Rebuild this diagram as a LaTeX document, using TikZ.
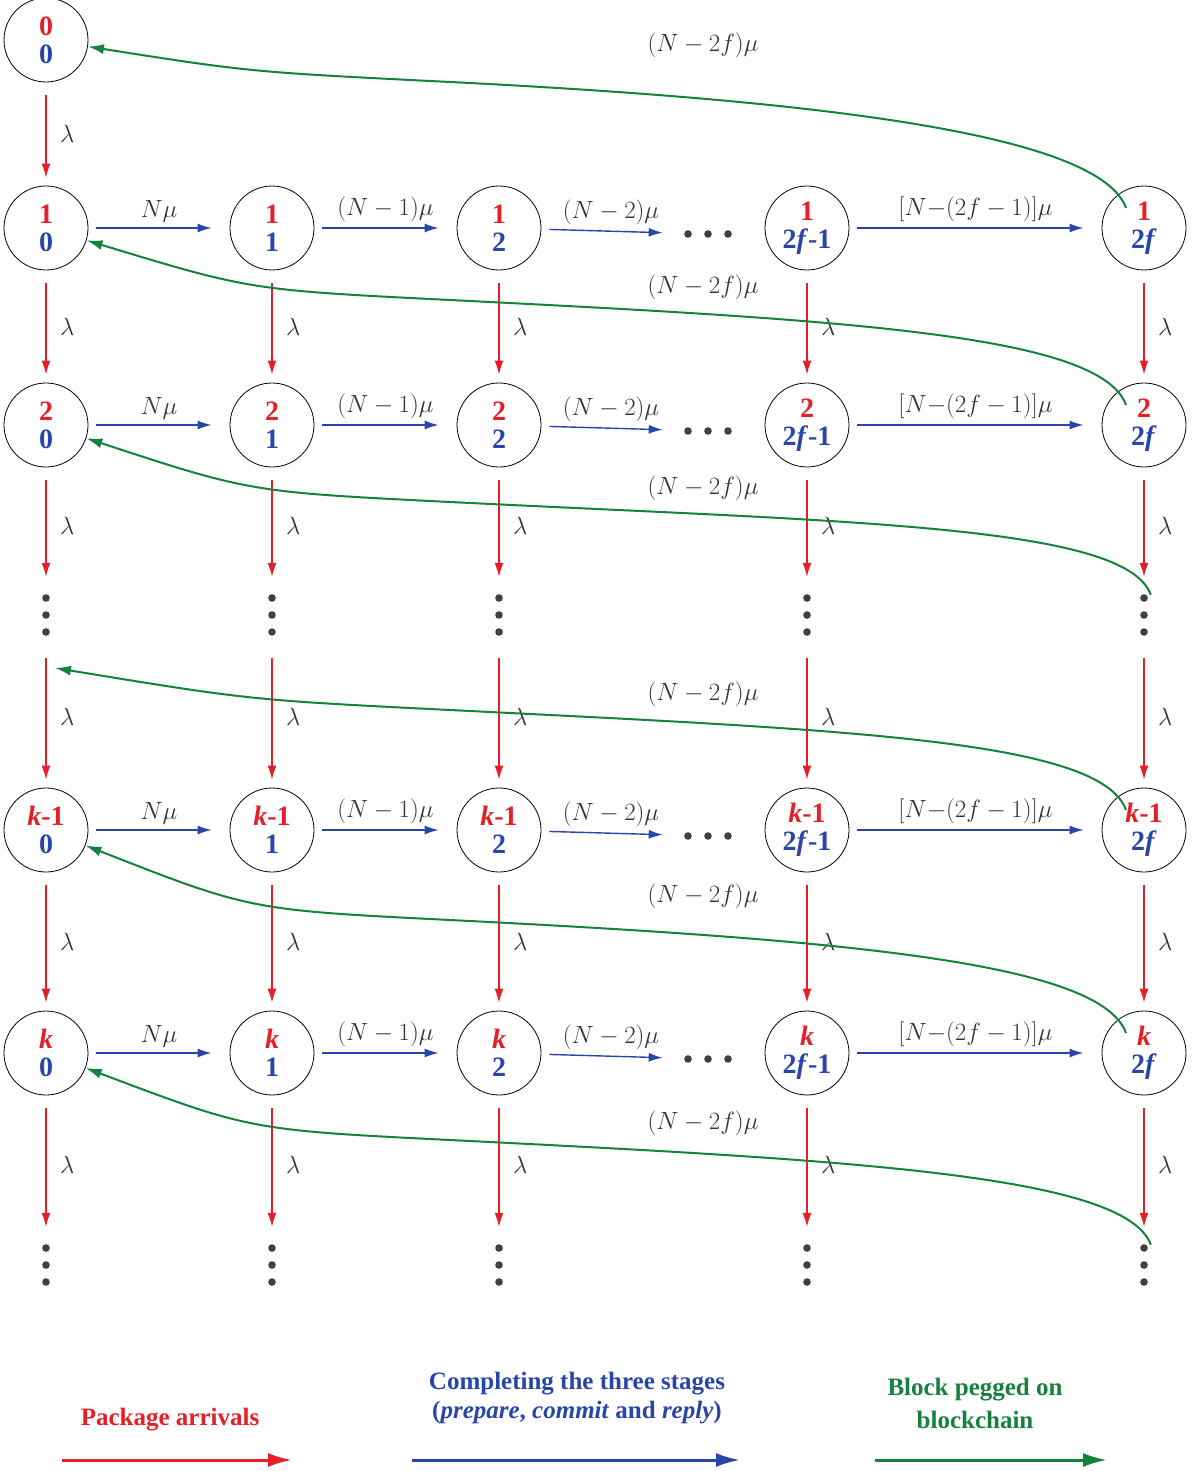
\documentclass[tikz,border=0pt]{standalone}
\usepackage{fontspec}
\setmainfont{Liberation Serif}
\usetikzlibrary{arrows.meta}
\definecolor{rr}{RGB}{230,30,40}
\definecolor{bb}{RGB}{40,70,170}
\definecolor{gg}{RGB}{20,130,60}
\begin{document}
\begin{tikzpicture}[x=1pt,y=-1pt,
 st/.style={circle,draw,thick,minimum size=84pt,inner sep=0pt,font=\bfseries\fontsize{28}{30}\selectfont,align=center},
 vd/.style={inner sep=0pt,minimum height=60pt,minimum width=10pt},
 ra/.style={draw=rr,line width=1.4pt,-{Latex[length=14pt,width=9pt]},shorten <=13pt,shorten >=8pt},
 ba/.style={draw=bb,line width=1.4pt,-{Latex[length=14pt,width=9pt]},shorten <=8pt,shorten >=18pt},
 ga/.style={draw=gg,line width=2pt,-{Latex[length=16pt,width=10pt]}},
 lb/.style={font=\fontsize{29}{31}\selectfont,text=black!80}]
\useasboundingbox (0,0) rectangle (1200,1471);
\newcommand{\myvd}{\tikz[x=1pt,y=1pt]{\foreach \i in {0,1,2}\fill[black!75] (0,\i*17) circle (3.8pt);}}
\newcommand{\myhd}{\tikz[x=1pt,y=1pt]{\foreach \i in {0,1,2}\fill[black!75] (\i*20,0) circle (3.8pt);}}
\newcommand{\st}[2]{\textcolor{rr}{#1}\\[-2pt]\textcolor{bb}{#2}}
\node[st] (r0c0) at (46,40) {\st{0}{0}};
\foreach \r/\y/\t in {r1/228/1, r2/425/2, rk1/830/\textit{k}-1, rk/1053/\textit{k}}{
 \node[st] (\r c0) at (46,\y) {\st{\t}{0}};
 \node[st] (\r c1) at (272,\y) {\st{\t}{1}};
 \node[st] (\r c2) at (499,\y) {\st{\t}{2}};
 \node[st] (\r c3) at (807,\y) {\st{\t}{2\textit{f}-1}};
 \node[st] (\r c4) at (1144,\y) {\st{\t}{2\textit{f}}};
 \node (\r h) at (708,\y+6) {\myhd};
}
\foreach \r/\y in {rd/615, rb/1265}{
 \node[vd] (\r c0) at (46,\y) {\myvd};
 \node[vd] (\r c1) at (272,\y) {\myvd};
 \node[vd] (\r c2) at (499,\y) {\myvd};
 \node[vd] (\r c3) at (807,\y) {\myvd};
 \node[vd] (\r c4) at (1144,\y) {\myvd};
}
\draw[ra] (r0c0) -- node[lb,right=10pt]{$\lambda$} (r1c0);
\foreach \a/\b in {r1/r2, r2/rd, rd/rk1, rk1/rk, rk/rb}{
 \foreach \c in {0,...,4}{
  \draw[ra] (\a c\c) -- node[lb,right=10pt]{$\lambda$} (\b c\c);
 }
}
\foreach \r in {r1,r2,rk1,rk}{
 \draw[ba] (\r c0) -- node[lb,above=2pt]{$N\mu$} (\r c1);
 \draw[ba] (\r c1) -- node[lb,above=2pt]{$(N-1)\mu$} (\r c2);
 \draw[ba] (\r c2) -- node[lb,above=2pt]{$(N-2)\mu$} (\r h);
 \draw[ba] (\r c3) -- node[lb,above=2pt]{$[N{-}(2f-1)]\mu$} (\r c4);
}
\coordinate (gk) at (55,668);
\foreach \s/\t/\yt/\yl in {r1c4/r0c0/40/45, r2c4/r1c0/258/287, rdc4/r2c0/460/488, rk1c4/gk/668/694, rkc4/rk1c0/878/896, rbc4/rkc0/1098/1123}{
 \draw[ga] ([shift={(12,10)}]\s.north west) .. controls +(-25,-70) and (850,\yt+62) .. (450,\yt+42) .. controls (250,\yt+32) .. (\t);
 \node[lb] at (703,\yl) {$(N-2f)\mu$};
}
\node[font=\bfseries\fontsize{25}{27}\selectfont,text=rr] (l1) at (170,1420) {Package arrivals};
\node[font=\bfseries\fontsize{25}{29}\selectfont,text=bb,align=center] (l2) at (577,1398) {Completing the three stages\\(\textit{prepare}, \textit{commit} and \textit{reply})};
\node[font=\bfseries\fontsize{25}{33}\selectfont,text=gg,align=center] (l3) at (975,1403) {Block pegged on\\blockchain};
\coordinate (a1) at (62,1460); \coordinate (b1) at (292,1460);
\coordinate (a2) at (412,1460); \coordinate (b2) at (740,1460);
\coordinate (a3) at (875,1460); \coordinate (b3) at (1107,1460);
\draw[rr,line width=3pt,-{Latex[length=24pt,width=14pt]}] (a1) -- (b1);
\draw[bb,line width=3pt,-{Latex[length=24pt,width=14pt]}] (a2) -- (b2);
\draw[gg,line width=3pt,-{Latex[length=24pt,width=14pt]}] (a3) -- (b3);
\end{tikzpicture}
\end{document}
